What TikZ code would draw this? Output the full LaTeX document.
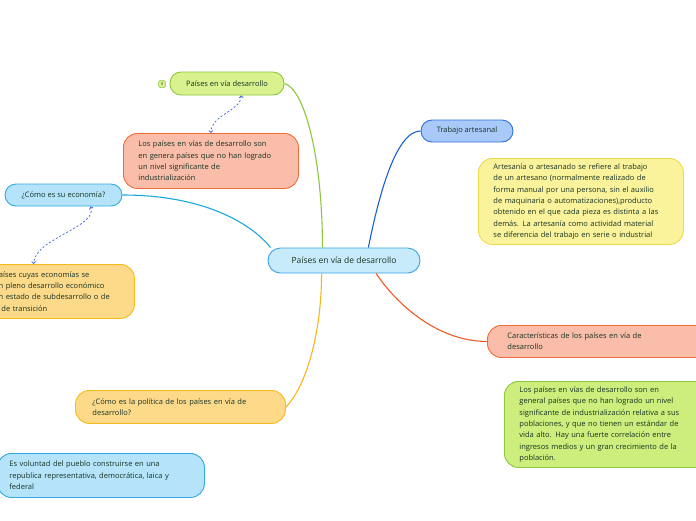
\documentclass[tikz,border=0pt]{standalone}
\usepackage{fontspec}
\setmainfont{Open Sans}
\usetikzlibrary{arrows.meta, positioning}

\definecolor{txt}{HTML}{163325}
\definecolor{rootfill}{HTML}{C8EBFB}
\definecolor{rootline}{HTML}{3AA3E3}
\definecolor{limefill}{HTML}{D9F28F}
\definecolor{limeline}{HTML}{8DC63F}
\definecolor{limebig}{HTML}{CDEE7C}
\definecolor{salmonfill}{HTML}{F9BDA9}
\definecolor{salmonline}{HTML}{F26B3A}
\definecolor{cyanfill}{HTML}{B5E4FA}
\definecolor{cyanline}{HTML}{31A9E1}
\definecolor{yellowfill}{HTML}{FDD98A}
\definecolor{yellowline}{HTML}{F7BA1B}
\definecolor{palefill}{HTML}{FBF39C}
\definecolor{paleline}{HTML}{EED94A}
\definecolor{trabfill}{HTML}{A9C9F9}
\definecolor{trabline}{HTML}{2E6FE0}
\definecolor{cgreen}{HTML}{8DC63F}
\definecolor{ccyan}{HTML}{19A8E0}
\definecolor{cblue}{HTML}{1B5ED6}
\definecolor{cyellow}{HTML}{F6B51C}
\definecolor{corange}{HTML}{F15A24}
\definecolor{dashblue}{HTML}{3D5FE6}

\tikzset{
  topic/.style={draw, line width=0.9pt, rounded corners=11pt, text=txt,
    font=\fontsize{7.5}{11.3}\selectfont, align=left, inner ysep=2pt},
  note/.style={topic, anchor=north west, rounded corners=14pt},
  link/.style={line width=1.1pt},
  dashlink/.style={draw=dashblue, line width=0.7pt, dash pattern=on 2pt off 2pt,
    {Straight Barb[length=2pt,width=4pt]}-{Straight Barb[length=2pt,width=4pt]}},
}

\begin{document}
\begin{tikzpicture}[x=1pt, y=-1pt]
  \useasboundingbox (0,0) rectangle (696,520);
  \clip (0,0) rectangle (696,520);

  % tema central
  \node[topic, fill=rootfill, draw=rootline, minimum width=152pt, minimum height=25pt,
    rounded corners=12.5pt, align=center, font=\fontsize{8.5}{10}\selectfont] (root) at (344,260.5)
    {Países en vía de desarrollo};

  % rama verde
  \node[topic, fill=limefill, draw=limeline, minimum width=114pt, minimum height=23pt,
    align=center, font=\fontsize{7.5}{9}\selectfont] (paises) at (227,83.5) {Países en vía desarrollo};
  \node[draw=limeline, fill=limefill, line width=0.5pt, rounded corners=1.5pt, minimum size=7pt,
    inner sep=0pt, text=txt, font=\fontsize{4}{4}\selectfont] (badge) at (162,84) {3};
  \node[note, fill=salmonfill, draw=salmonline, text width=145pt, inner xsep=15pt,
    minimum height=55pt] (defin) at (123,133)
    {Los países en vías de desarrollo son\\en genera países que no han logrado\\un nivel significante de\\industrialización};

  % rama celeste
  \node[topic, fill=cyanfill, draw=cyanline, minimum width=117pt, minimum height=22pt,
    align=center] (eco) at (63.5,195) {¿Cómo es su economía?};
  \node[note, fill=yellowfill, draw=yellowline, text width=128pt, inner xsep=12pt,
    minimum height=54pt] (ecotext) at (-18,264)
    {Países cuyas economías se\\en pleno desarrollo económico\\en estado de subdesarrollo o de\\\phantom{o }de transición};

  % rama amarilla
  \node[note, fill=yellowfill, draw=yellowline, text width=176pt, inner xsep=17pt,
    minimum height=33pt] (politica) at (75,390)
    {¿Cómo es la política de los países en vía de\\desarrollo?};
  \node[note, fill=cyanfill, draw=cyanline, text width=183pt, inner xsep=12pt,
    minimum height=44pt] (voluntad) at (-3,453)
    {Es voluntad del pueblo construirse en una\\republica representativa, democrática, laica y\\federal};

  % rama azul
  \node[topic, fill=trabfill, draw=trabline, minimum width=92pt, minimum height=22pt,
    align=center] (trabajo) at (467,131) {Trabajo artesanal};
  \node[note, fill=palefill, draw=paleline, text width=175pt, inner xsep=15pt,
    minimum height=86pt] (artesania) at (478,158)
    {Artesanía o artesanado se refiere al trabajo\\de un artesano (normalmente realizado de\\forma manual por una persona, sin el auxilio\\de maquinaria o automatizaciones),producto\\obtenido en el que cada pieza es distinta a las\\demás. La artesanía como actividad material\\se diferencia del trabajo en serie o industrial};

  % rama naranja
  \node[note, fill=salmonfill, draw=salmonline, text width=185pt, inner xsep=20pt,
    minimum height=32pt] (caract) at (487,325)
    {Características de los países en vía de\\desarrollo};
  \node[note, fill=limebig, draw=limeline, text width=180pt, inner xsep=15pt,
    minimum height=86pt] (desc) at (504,381)
    {Los países en vías de desarrollo son en\\general países que no han logrado un nivel\\significante de industrialización relativa a sus\\poblaciones, y que no tienen un estándar de\\vida alto. Hay una fuerte correlación entre\\ingresos medios y un gran crecimiento de la\\población.};

  % conectores
  \draw[link, cgreen] (root.149) .. controls +(0,-90) and +(20,5) .. (paises.east);
  \draw[link, ccyan] (root.170) .. controls +(-20,-25) and +(80,0) .. (eco.east);
  \draw[link, cblue] (root.28) .. controls +(10,-50) and +(-25,0) .. (trabajo.west);
  \draw[link, cyellow] (root.210) .. controls +(0,60) and +(20,-20) .. (politica.east);
  \draw[link, corange] (root.338) .. controls +(20,30) and +(-50,0) .. (caract.west);

  % conectores punteados
  \draw[dashlink] (paises.-40) .. controls +(0,15) and +(0,-18) .. (defin.north);
  \draw[dashlink] (eco.-23) .. controls +(8,20) and +(0,-25) .. (ecotext.132);
\end{tikzpicture}
\end{document}
